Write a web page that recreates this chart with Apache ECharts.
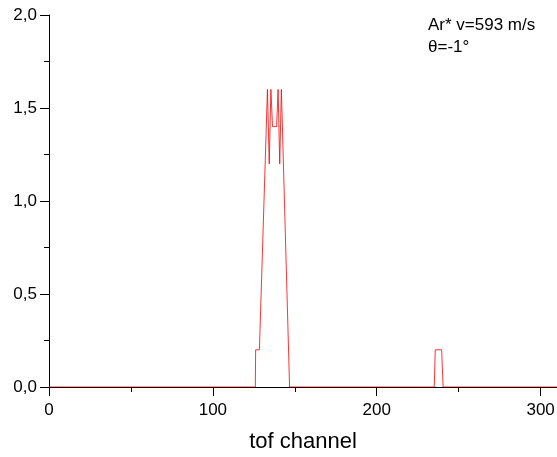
<!DOCTYPE html>
<html>
<head>
<meta charset="utf-8">
<script src="https://cdn.jsdelivr.net/npm/echarts@6/dist/echarts.min.js"></script>
<style>html,body{margin:0;padding:0;background:#fff}#c{width:557px;height:457px}</style>
</head>
<body>
<div id="c"></div>
<script>
// tof channel positions and signal values
const channels = [0, 125.9, 126.1, 128.4, 133.3, 134.4, 135.4, 136.4, 138.9, 139.8, 140.8, 141.8, 146.8, 235.1, 235.7, 239.6, 240.5, 310];
const signal   = [0, 0,     0.2,   0.2,   1.6,   1.2,   1.6,   1.4,   1.4,   1.6,   1.2,   1.6,   0,     0,     0.2,   0.2,   0,     0];
const xTicks = [0, 100, 200, 300];
const yTicks = [0, 0.5, 1.0, 1.5, 2.0];
const xLabel = 'tof channel';
const noteLines = ['Ar* v=593 m/s', 'θ=-1°'];

const font = 'Liberation Sans, Arial, Helvetica, sans-serif';
const chart = echarts.init(document.getElementById('c'), null, {renderer: 'canvas'});
chart.setOption({
  animation: false,
  backgroundColor: '#fff',
  grid: {left: 49, right: 0, top: 15, bottom: 70, containLabel: false, outerBoundsMode: 'none'},
  xAxis: {
    type: 'value', min: xTicks[0], max: 310, interval: xTicks[1] - xTicks[0],
    name: xLabel, nameLocation: 'middle', nameGap: 44,
    nameTextStyle: {fontFamily: font, fontSize: 22, color: '#000'},
    axisLine: {onZero: false, lineStyle: {color: '#000', width: 1}},
    axisTick: {show: true, inside: false, length: 9, lineStyle: {color: '#000'}},
    minorTick: {show: true, splitNumber: 2, length: 5, lineStyle: {color: '#000'}},
    axisLabel: {fontFamily: font, fontSize: 17, color: '#000', margin: 15,
      formatter: v => xTicks.includes(v) ? String(v) : ''},
    splitLine: {show: false}
  },
  yAxis: {
    type: 'value', min: yTicks[0], max: yTicks[yTicks.length - 1], interval: yTicks[1] - yTicks[0],
    axisLine: {show: true, lineStyle: {color: '#000', width: 1}},
    axisTick: {show: true, inside: false, length: 9, lineStyle: {color: '#000'}},
    minorTick: {show: true, splitNumber: 2, length: 5, lineStyle: {color: '#000'}},
    axisLabel: {fontFamily: font, fontSize: 17, color: '#000', margin: 12,
      formatter: v => v.toFixed(1).replace('.', ',')},
    splitLine: {show: false}
  },
  series: [{
    type: 'line',
    data: channels.map((c, i) => [c, signal[i]]),
    showSymbol: false,
    symbol: 'none',
    lineStyle: {color: '#ff0000', width: 1, opacity: 0.8},
    z: 3
  }],
  graphic: [
    {type: 'text', left: 428, top: 17, style: {text: noteLines[0], fontFamily: font, fontSize: 17, fill: '#000'}},
    {type: 'text', left: 428, top: 39, style: {text: noteLines[1], fontFamily: font, fontSize: 17, fill: '#000'}}
  ]
});
</script>
</body>
</html>
